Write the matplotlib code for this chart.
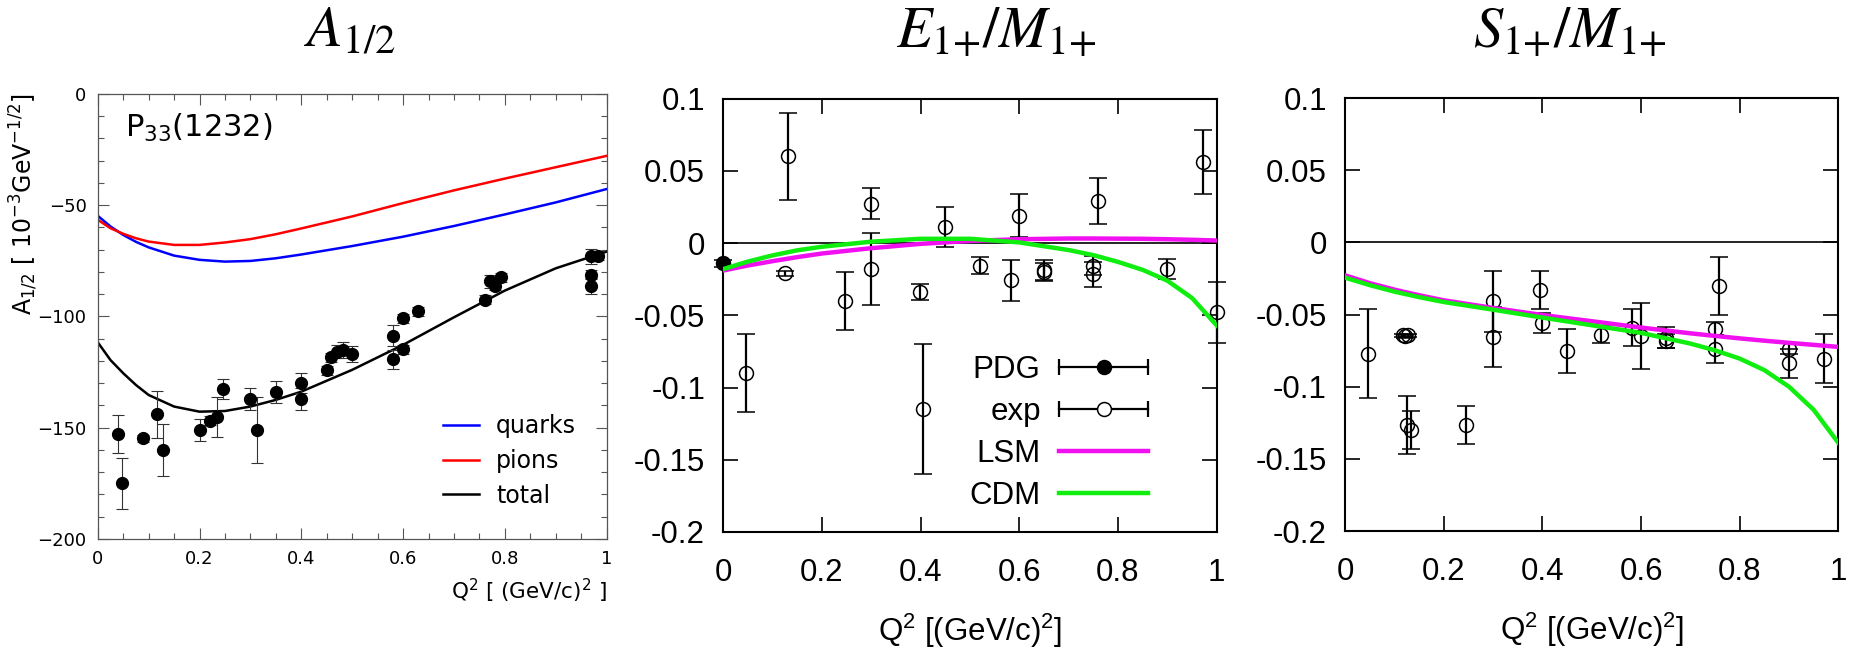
import numpy as np
import matplotlib
matplotlib.use("Agg")
import matplotlib.pyplot as plt
from matplotlib.lines import Line2D
from matplotlib.legend_handler import HandlerLine2D, HandlerTuple
from matplotlib.ticker import MultipleLocator

plt.rcParams['font.family'] = ['Liberation Sans', 'DejaVu Sans']
plt.rcParams['mathtext.fontset'] = 'custom'
plt.rcParams['mathtext.rm'] = 'Liberation Sans'
plt.rcParams['mathtext.it'] = 'Liberation Sans:italic'

# ---------------------------------------------------------------- data
# Panel 1: A_1/2 of P33(1232), model curves
q2_model = [0.0, 0.025, 0.05, 0.075, 0.1, 0.15, 0.2, 0.25, 0.3, 0.35,
            0.4, 0.5, 0.6, 0.7, 0.8, 0.9, 1.0]
a12_quarks = [-54.8, -59.6, -63.4, -66.5, -69.0, -72.7, -74.6, -75.4, -75.1,
              -73.9, -72.2, -68.4, -64.2, -59.4, -54.2, -48.8, -42.8]
a12_pions = [-56.6, -60.4, -62.9, -64.9, -66.4, -67.9, -67.9, -66.8, -65.3,
             -63.1, -60.5, -55.1, -49.1, -43.4, -38.1, -33.0, -27.9]
a12_total = [-111.6, -119.6, -125.5, -130.8, -135.3, -140.5, -142.8, -142.5,
             -140.5, -137.5, -133.8, -124.0, -112.8, -100.4, -88.4, -78.4, -70.9]

# Panel 1: measured A_1/2
q2_a12 = [0.039, 0.047, 0.089, 0.117, 0.129, 0.200, 0.220, 0.234, 0.246, 0.299,
          0.312, 0.350, 0.400, 0.400, 0.450, 0.459, 0.470, 0.481, 0.500, 0.580,
          0.580, 0.600, 0.600, 0.630, 0.760, 0.770, 0.780, 0.792, 0.970, 0.982,
          0.970, 0.970]
a12_val = [-153.0, -175.0, -154.8, -144.0, -160.0, -151.0, -146.8, -145.0, -132.6,
           -137.0, -151.0, -133.8, -130.0, -137.0, -124.3, -118.4, -115.8, -115.0,
           -116.9, -108.6, -119.3, -100.8, -114.8, -97.8, -92.6, -84.3, -86.3,
           -82.4, -73.1, -72.7, -81.3, -86.3]
a12_err = [8.5, 11.6, 1.5, 10.7, 11.7, 5.0, 2.0, 9.0, 4.6, 5.0, 15.0, 5.0, 4.5, 5.0,
           2.0, 2.0, 3.0, 3.7, 3.4, 4.9, 4.3, 2.0, 2.0, 2.0, 2.0, 3.0, 2.0, 2.1,
           3.5, 2.0, 2.0, 3.5]

# Panels 2 and 3: model curves
q2_th = [0.0, 0.05, 0.1, 0.15, 0.2, 0.3, 0.4, 0.5, 0.6, 0.7, 0.75, 0.8, 0.85,
         0.9, 0.95, 1.0]
e2m_lsm = [-0.019, -0.0155, -0.0125, -0.0097, -0.0072, -0.0035, -0.0005, 0.0015,
           0.0027, 0.0032, 0.0032, 0.0031, 0.0030, 0.0027, 0.0023, 0.0018]
e2m_cdm = [-0.018, -0.0128, -0.0085, -0.0050, -0.0025, 0.0010, 0.0030, 0.0030,
           0.0005, -0.0048, -0.0083, -0.0130, -0.0185, -0.0260, -0.0380, -0.0570]
s2m_lsm = [-0.0228, -0.0282, -0.0327, -0.0366, -0.0401, -0.0454, -0.0503, -0.0546,
           -0.0590, -0.0630, -0.0648, -0.0665, -0.0681, -0.0696, -0.0710, -0.0724]
s2m_cdm = [-0.0244, -0.0296, -0.0341, -0.0379, -0.0413, -0.0466, -0.0521, -0.0574,
           -0.0627, -0.0701, -0.0748, -0.0805, -0.0885, -0.1000, -0.1160, -0.1389]

# Panel 2: E1+/M1+ measurements
q2_e2m_pdg = [0.0]
e2m_pdg = [-0.014]
e2m_pdg_err = [0.0025]
q2_e2m_exp = [0.0465, 0.1247, 0.131, 0.248, 0.2998, 0.2998, 0.3997, 0.404, 0.449,
              0.520, 0.583, 0.600, 0.650, 0.650, 0.750, 0.750, 0.759, 0.899,
              0.972, 1.000]
e2m_exp = [-0.0896, -0.021, 0.0601, -0.0399, 0.0274, -0.018, -0.0339, -0.115,
           0.0113, -0.0157, -0.0258, 0.0189, -0.0187, -0.020, -0.0157, -0.0217,
           0.0293, -0.0177, 0.0562, -0.0479]
e2m_exp_err = [0.027, 0.002, 0.030, 0.020, 0.011, 0.025, 0.0055, 0.045, 0.0138,
               0.0058, 0.014, 0.0148, 0.0071, 0.006, 0.0065, 0.0087, 0.016,
               0.0069, 0.022, 0.021]

# Panel 3: S1+/M1+ measurements
q2_s2m_exp = [0.047, 0.118, 0.1225, 0.127, 0.125, 0.133, 0.245, 0.300, 0.300,
              0.396, 0.400, 0.449, 0.519, 0.582, 0.599, 0.650, 0.650, 0.749,
              0.749, 0.759, 0.899, 0.899, 0.971]
s2m_exp = [-0.077, -0.0645, -0.065, -0.0645, -0.1266, -0.130, -0.1266, -0.0408,
           -0.0655, -0.033, -0.0556, -0.0752, -0.0639, -0.059, -0.0648, -0.066,
           -0.0685, -0.0597, -0.0736, -0.0304, -0.0736, -0.0837, -0.0806]
s2m_exp_err = [0.031, 0.001, 0.001, 0.001, 0.020, 0.013, 0.013, 0.021, 0.021,
               0.013, 0.007, 0.015, 0.006, 0.013, 0.023, 0.0075, 0.005, 0.0045,
               0.0097, 0.020, 0.004, 0.010, 0.017]

# ticks
x_ticks = [0, 0.2, 0.4, 0.6, 0.8, 1.0]
x_ticklabels = ['0', '0.2', '0.4', '0.6', '0.8', '1']
a12_ticks = [0, -50, -100, -150, -200]
a12_ticklabels = ['0', '\u221250', '\u2212100', '\u2212150', '\u2212200']
ratio_ticks = [0.1, 0.05, 0, -0.05, -0.1, -0.15, -0.2]
ratio_ticklabels = ['0.1', '0.05', '0', '-0.05', '-0.1', '-0.15', '-0.2']

MAGENTA = '#f010f0'
GREEN = '#10ee10'
LEFT_FONT = 'DejaVu Sans'
FS = 22.5  # text size in panels 2 and 3

fig = plt.figure(figsize=(18.65, 6.51), dpi=100)

# ---------------------------------------------------------------- panel 1
axL = fig.add_axes([0.0524, 0.172, 0.2729, 0.684])
axL.plot(q2_model, a12_quarks, color='#0000ff', lw=1.8, label='quarks')
axL.plot(q2_model, a12_pions, color='#ff0000', lw=1.8, label='pions')
axL.plot(q2_model, a12_total, color='k', lw=1.8, label='total')
axL.errorbar(q2_a12, a12_val, yerr=a12_err, fmt='o', color='k', ms=8.5,
             ecolor='#333333', elinewidth=0.8, capsize=4, capthick=0.8,
             clip_on=False, zorder=3)
axL.set_xlim(0, 1)
axL.set_ylim(-200, 0)
axL.set_xticks(x_ticks, x_ticklabels, fontfamily=LEFT_FONT)
axL.set_yticks(a12_ticks, a12_ticklabels, fontfamily=LEFT_FONT)
axL.xaxis.set_minor_locator(MultipleLocator(0.05))
axL.yaxis.set_minor_locator(MultipleLocator(10))
axL.tick_params(which='both', direction='in', top=True, right=True,
                color='#555555', width=0.8, labelsize=13)
axL.tick_params(which='major', length=8, pad=8)
axL.tick_params(which='minor', length=4.5)
for sp in axL.spines.values():
    sp.set_color('#555555')
    sp.set_linewidth(0.9)
axL.text(0.053, 0.923, r'P$_{33}$(1232)', transform=axL.transAxes,
         fontsize=22, va='center', fontfamily=LEFT_FONT, math_fontfamily='dejavusans')
axL.set_ylabel(r'A$_{1/2}$ [ 10$^{-3}$GeV$^{-1/2}$]', fontsize=17, loc='top',
               fontfamily=LEFT_FONT, math_fontfamily='dejavusans')
axL.yaxis.set_label_coords(-0.113, 1.0)
axL.set_xlabel(r'Q$^2$ [ (GeV/c)$^2$ ]', fontsize=15.5, loc='right', labelpad=6,
               fontfamily=LEFT_FONT, math_fontfamily='dejavusans')
axL.legend(loc='center left', bbox_to_anchor=(0.678, 0.175), frameon=False,
           borderpad=0, borderaxespad=0, handlelength=1.55, handletextpad=0.7,
           labelspacing=0.45, prop={'family': LEFT_FONT, 'size': 17})


# ---------------------------------------------------------------- panels 2, 3
def style_ratio_axes(ax):
    ax.set_xlim(0, 1)
    ax.set_ylim(-0.2, 0.1)
    ax.set_xticks(x_ticks, x_ticklabels)
    ax.set_yticks(ratio_ticks, ratio_ticklabels)
    ax.tick_params(direction='in', top=True, right=True, length=10.5, width=1.2,
                   labelsize=FS)
    ax.tick_params(axis='x', pad=19)
    ax.tick_params(axis='y', pad=13)
    for sp in ax.spines.values():
        sp.set_linewidth(1.5)
    ax.axhline(0, color='k', lw=1.2, zorder=1)
    ax.set_xlabel(r'Q$^2$ [(GeV/c)$^2$]', fontsize=FS, labelpad=17)


err_style = dict(fmt='o', ms=10, mec='k', mew=1.1, ecolor='k', elinewidth=1.6,
                 capsize=6.3, capthick=1.6, clip_on=False, zorder=3)

axM = fig.add_axes([0.3877, 0.1828, 0.2647, 0.6656])
style_ratio_axes(axM)
axM.errorbar(q2_e2m_pdg, e2m_pdg, yerr=e2m_pdg_err, mfc='k', **err_style)
axM.errorbar(q2_e2m_exp, e2m_exp, yerr=e2m_exp_err, mfc='none', **err_style)
axM.plot(q2_th, e2m_lsm, color=MAGENTA, lw=3.2, zorder=4)
axM.plot(q2_th, e2m_cdm, color=GREEN, lw=3.2, zorder=4)

# gnuplot-like legend: text on the left, error-bar samples on the right
cap_pdg = Line2D([], [], color='k', lw=1.6, marker='|', ms=11.5, mew=1.6)
pt_pdg = Line2D([], [], ls='none', marker='o', ms=10, mfc='k', mec='k', mew=1.1)
cap_exp = Line2D([], [], color='k', lw=1.6, marker='|', ms=11.5, mew=1.6)
pt_exp = Line2D([], [], ls='none', marker='o', ms=10, mfc='white', mec='k', mew=1.1)
h_lsm = Line2D([], [], color=MAGENTA, lw=3.2)
h_cdm = Line2D([], [], color=GREEN, lw=3.2)
hmap = {cap_pdg: HandlerLine2D(numpoints=2, marker_pad=0),
        cap_exp: HandlerLine2D(numpoints=2, marker_pad=0),
        pt_pdg: HandlerLine2D(numpoints=1),
        pt_exp: HandlerLine2D(numpoints=1),
        tuple: HandlerTuple(ndivide=1)}
axM.legend([(cap_pdg, pt_pdg), (cap_exp, pt_exp), h_lsm, h_cdm],
           ['PDG', 'exp', 'LSM', 'CDM'], handler_map=hmap, markerfirst=False,
           loc='center right', bbox_to_anchor=(0.86, 0.228), frameon=False,
           borderpad=0, borderaxespad=0, fontsize=FS, handlelength=2.82,
           handletextpad=0.6, labelspacing=0.38)

axR = fig.add_axes([0.7212, 0.1843, 0.2645, 0.665])
style_ratio_axes(axR)
axR.errorbar(q2_s2m_exp, s2m_exp, yerr=s2m_exp_err, mfc='none', **err_style)
axR.plot(q2_th, s2m_lsm, color=MAGENTA, lw=3.2, zorder=4)
axR.plot(q2_th, s2m_cdm, color=GREEN, lw=3.2, zorder=4)

# ---------------------------------------------------------------- titles
for xpos, title in [(0.1877, r'$A_{1/2}$'), (0.534, r'$E_{1{+}}/M_{1{+}}$'),
                    (0.8418, r'$S_{1{+}}/M_{1{+}}$')]:
    fig.text(xpos, 0.928, title, ha='center', va='baseline', fontsize=42,
             math_fontfamily='stix')

fig.savefig('out.png', dpi=100)
